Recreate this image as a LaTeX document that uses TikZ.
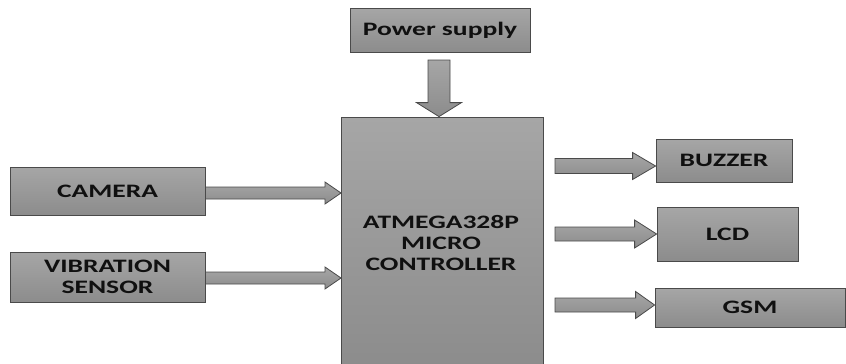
\documentclass[tikz,border=0pt]{standalone}
\usepackage{fontspec}
\setmainfont{Carlito}[FakeStretch=1.45]
\usetikzlibrary{calc}
\definecolor{boxtop}{HTML}{A6A6A6}
\definecolor{boxbot}{HTML}{8C8C8C}
\definecolor{edge}{HTML}{4A4A4A}
\definecolor{txt}{HTML}{101010}
\tikzset{
  blk/.style={rectangle, draw=edge, line width=0.8pt, top color=boxtop, bottom color=boxbot,
    font=\fontsize{19}{21}\selectfont\bfseries, text=txt, align=center, inner sep=0pt},
  barrow/.style={draw=edge, line width=0.8pt, top color=boxtop, bottom color=boxbot, line join=miter},
}
% horizontal block arrow: #1 start, #2 tip, #3 half shaft, #4 half head, #5 head length
\newcommand{\harrow}[5]{%
  \path[barrow] let \p1=(#1), \p2=(#2) in
    (\x1,\y2+#3) -- (\x2-#5,\y2+#3) -- (\x2-#5,\y2+#4) -- (\x2,\y2)
    -- (\x2-#5,\y2-#4) -- (\x2-#5,\y2-#3) -- (\x1,\y2-#3) -- cycle;}
% downward block arrow: #1 start (top), #2 tip (bottom)
\newcommand{\varrow}[5]{%
  \path[barrow] let \p1=(#1), \p2=(#2) in
    (\x2+#3,\y1) -- (\x2+#3,\y2+#5) -- (\x2+#4,\y2+#5) -- (\x2,\y2)
    -- (\x2-#4,\y2+#5) -- (\x2-#3,\y2+#5) -- (\x2-#3,\y1) -- cycle;}
\begin{document}
\begin{tikzpicture}[x=1pt,y=-1pt]
\path[use as bounding box, fill=white] (0,0) rectangle (846,364);
\begin{scope}
\clip (0,0) rectangle (846,364);
\node[blk, minimum width=202pt, minimum height=250pt] (mcu) at (442,242) {};
\end{scope}
\node[font=\fontsize{19}{21}\selectfont\bfseries, text=txt, align=center] (mcutext) at (441,243) {ATMEGA328P\\MICRO\\CONTROLLER};
\node[blk, minimum width=180pt, minimum height=44pt] (ps) at (440,30) {Power supply};
\node[blk, minimum width=195pt, minimum height=48pt] (cam) at (107.5,191) {CAMERA};
\node[blk, minimum width=195pt, minimum height=50pt] (vib) at (107.5,277) {VIBRATION\\SENSOR};
\node[blk, minimum width=136pt, minimum height=43pt] (buz) at (724,160.5) {BUZZER};
\node[blk, minimum width=141pt, minimum height=54pt] (lcd) at (727.5,234) {LCD};
\node[blk, minimum width=190pt, minimum height=39pt] (gsm) at (750,307.5) {GSM};
% arrow ends
\coordinate (psin) at (439,117);
\coordinate (psout) at (439,60);
\coordinate (camin) at (341,193);
\coordinate (vibin) at (341,278);
\coordinate (buzout) at (555,166);
\coordinate (lcdout) at (555,234);
\coordinate (gsmout) at (555,305);
\varrow{psout}{mcu.north -| psin}{11}{22.5}{14}
\harrow{cam.east}{camin}{6}{11}{16}
\harrow{vib.east}{vibin}{6}{11}{16}
\harrow{buzout}{buz.west |- buzout}{7.5}{13.5}{23}
\harrow{lcdout}{lcd.west |- lcdout}{7}{14}{22}
\harrow{gsmout}{gsm.west |- gsmout}{7}{13.5}{19}
\end{tikzpicture}
\end{document}
